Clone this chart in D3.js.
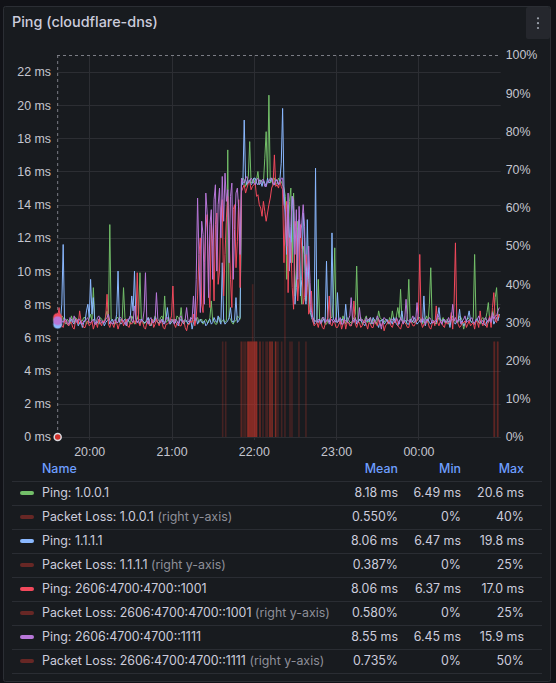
<!DOCTYPE html>
<html>
<head>
<meta charset="utf-8">
<title>Ping (cloudflare-dns)</title>
<script src="https://cdn.jsdelivr.net/npm/d3@7/dist/d3.min.js"></script>
<style>
  html, body { margin: 0; padding: 0; background: #111217; }
  svg { display: block; font-family: Inter, "Noto Sans", sans-serif; }
  .axis text { fill: #c5c6cf; font-size: 12.4px; }
  .axis path { display: none; }
</style>
</head>
<body>
<svg id="chart" width="556" height="683"></svg>

<script type="text/javascript">
    /// ping samples, one every minute from 19:37
    const pingStart = "19:37:00";
    const pingStepMin = 1;

    const ping1001 = [ // 1.0.0.1
        7.1,7.0, 6.9,7.3, 7.2,6.9, 6.8,7.1, 7.0,6.8, 7.3,7.0, 6.9,7.2, 7.1,6.9, 6.8,7.0, 7.0,7.2,
        7.2,6.8, 6.9,7.1, 7.4,7.0, 9.0,7.1, 7.0,6.9, 6.8,7.2, 7.1,7.0, 6.9,7.3, 7.6,7.0, 12.8,7.1,
        7.0,6.9, 6.8,7.2, 7.2,6.9, 7.1,7.0, 9.0,7.2, 6.9,7.0, 7.0,6.8, 7.3,7.1, 6.8,7.0, 7.1,7.4,
        9.9,7.1, 7.0,6.8, 6.9,7.1, 7.2,6.9, 6.7,7.0, 7.0,7.3, 7.1,6.9, 6.9,7.2, 7.3,7.0, 8.5,6.9,
        7.0,7.2, 6.8,7.0, 7.1,6.9, 6.9,7.3, 7.2,7.0, 7.8,6.9, 6.9,7.1, 7.0,6.8, 6.8,7.2, 7.1,7.0,
        6.9,7.1, 7.2,6.9, 7.0,7.1, 6.8,7.0, 7.1,6.9, 6.9,7.2, 8.2,7.0, 7.0,6.8, 6.8,7.1, 7.2,6.9,
        7.0,7.1, 6.9,7.0, 17.3,7.2, 7.1,6.9, 6.8,7.0, 7.0,7.3, 7.2,7.1, 15.2,15.6, 15.5,15.1, 15.3,15.7,
        17.8,15.3, 15.4,15.6, 15.2,15.5, 16.0,15.2, 15.5,15.4, 15.3,16.8, 18.4,15.5, 20.6,15.3, 15.4,15.6, 15.6,15.2,
        15.3,15.6, 15.5,15.4, 15.2,15.0, 14.5,9.5, 12.0,14.2, 15.0,10.5, 14.7,8.5, 10.0,13.0, 12.5,9.0, 8.0,11.5,
        11.0,8.2, 9.0,10.0, 7.5,7.3, 7.2,7.0, 7.0,6.9, 9.5,7.1, 6.9,7.2, 7.1,6.8, 6.8,7.0, 7.0,7.2,
        7.2,8.3, 11.4,7.0, 6.9,7.1, 7.0,6.8, 7.3,7.0, 6.8,7.2, 7.1,6.9, 6.9,7.0, 7.2,7.4, 10.3,7.0,
        7.0,7.2, 6.8,6.9, 7.1,7.3, 6.9,7.0, 7.2,6.8, 7.0,7.1, 6.8,7.0, 7.6,7.2, 7.1,6.9, 6.9,7.1,
        7.0,6.8, 7.2,7.0, 7.6,7.1, 6.9,7.3, 7.8,7.2, 8.9,7.0, 7.0,6.9, 6.8,7.4, 9.5,7.0, 7.1,6.9,
        6.9,7.1, 7.0,7.2, 7.2,6.9, 6.8,7.0, 7.1,7.3, 6.9,8.0, 10.2,7.1, 7.0,6.9, 6.8,7.0, 7.2,7.1,
        7.0,7.2, 6.9,7.0, 7.1,6.8, 6.8,7.1, 7.3,7.0, 7.0,6.9, 6.9,7.3, 7.2,7.0, 6.5,6.9, 7.0,7.2,
        7.1,7.0, 6.9,7.2, 11.0,7.1, 7.0,6.9, 6.8,7.1, 7.2,7.0, 7.1,7.5, 8.1,7.0, 6.9,7.6, 7.3,8.4,
        9.0,7.2, 7.4
    ];
    const ping1111 = [ // 1.1.1.1
        6.8,6.9, 7.0,8.0, 11.6,7.0, 6.9,6.8, 6.7,7.0, 7.1,6.9, 6.8,7.1, 7.0,6.7, 6.9,7.0, 6.6,6.9,
        7.0,7.6, 8.0,7.2, 9.5,7.4, 8.4,7.0, 6.8,6.9, 7.1,6.8, 6.9,7.0, 6.7,6.9, 7.0,7.1, 6.8,7.0,
        7.1,6.8, 6.9,7.4, 10.0,7.0, 6.8,6.9, 7.0,7.1, 6.7,6.9, 7.1,7.3, 8.5,7.6, 10.0,7.2, 6.9,7.0,
        6.8,7.1, 7.0,6.9, 6.9,7.0, 7.2,6.8, 6.7,7.0, 6.9,7.2, 7.0,6.9, 6.8,7.0, 7.1,6.8, 6.9,7.1,
        7.8,7.0, 6.8,6.9, 7.0,7.1, 6.9,6.8, 6.7,7.0, 7.1,6.9, 6.8,7.0, 7.0,6.8, 6.9,7.1, 6.5,6.9,
        7.0,7.2, 6.8,7.0, 7.1,6.9, 6.9,7.0, 6.7,6.8, 7.0,7.1, 6.8,6.9, 7.2,7.0, 6.9,7.3, 7.0,6.8,
        10.5,7.0, 6.8,6.9, 7.0,7.2, 7.8,7.0, 6.9,7.1, 8.4,6.9, 7.0,7.2, 15.4,15.2, 19.1,15.5, 15.2,15.4,
        15.5,15.2, 15.3,15.6, 15.6,15.3, 15.2,15.5, 15.4,15.1, 15.5,15.3, 15.1,15.6, 15.3,15.4, 15.6,15.2, 15.2,15.5,
        15.4,15.2, 15.5,16.5, 19.8,15.0, 13.0,11.0, 14.0,12.0, 10.5,14.5, 13.5,8.0, 9.0,12.0, 13.1,8.5, 9.5,13.5,
        12.0,8.0, 13.1,9.5, 8.0,7.2, 7.0,6.8, 16.2,7.0, 6.9,7.1, 6.8,7.0, 7.1,6.9, 10.6,7.0, 6.9,7.2,
        12.3,7.1, 7.0,6.9, 8.7,7.0, 6.8,7.1, 7.1,6.9, 8.0,7.0, 6.9,6.8, 6.7,7.0, 7.0,7.2, 6.8,6.9,
        7.1,7.0, 6.9,6.8, 6.7,7.0, 7.0,7.1, 6.8,6.9, 7.2,7.0, 6.9,6.8, 6.6,7.0, 7.0,7.1, 6.8,6.9,
        7.1,6.9, 6.9,7.0, 6.8,7.2, 7.0,6.8, 6.7,7.0, 7.1,7.6, 6.9,7.0, 7.0,6.8, 6.8,7.1, 6.9,7.0,
        7.2,7.0, 6.8,6.9, 7.0,7.1, 6.9,8.5, 6.7,7.0, 7.1,6.9, 6.8,7.0, 7.0,6.8, 6.9,7.2, 7.8,7.0,
        6.8,7.1, 7.0,6.9, 6.9,7.0, 6.6,7.1, 7.1,6.9, 6.8,7.0, 7.0,7.7, 6.9,7.0, 6.7,6.8, 7.0,7.2,
        7.6,7.0, 6.9,6.8, 6.8,7.1, 7.1,6.9, 6.9,7.0, 7.0,6.8, 6.7,7.0, 6.9,7.1, 7.1,7.3, 6.8,7.0,
        7.2,7.0, 7.4
    ];
    const pingV6_1001 = [ // 2606:4700:4700::1001
        7.2,7.8, 6.9,6.7, 6.6,7.0, 7.0,6.8, 6.7,6.9, 6.9,6.6, 6.5,7.0, 7.1,6.8, 7.6,7.0, 6.8,6.6,
        6.6,6.9, 7.0,6.7, 6.8,7.0, 6.5,6.8, 6.9,6.6, 7.1,6.9, 6.7,7.0, 6.9,7.2, 8.6,6.8, 6.6,6.9,
        6.8,6.6, 7.0,6.9, 6.5,6.8, 6.9,7.1, 6.7,6.9, 7.1,6.7, 6.6,6.9, 6.8,7.0, 7.0,6.8, 9.9,6.9,
        6.7,7.0, 6.9,6.6, 6.5,6.9, 7.0,6.7, 6.8,7.1, 6.6,6.8, 7.1,6.9, 6.7,7.0, 6.9,6.6, 6.5,6.8,
        6.8,6.9, 7.0,7.3, 9.1,6.8, 6.6,6.9, 6.9,6.7, 6.7,7.0, 7.0,6.6, 6.4,6.8, 6.8,7.0, 6.9,7.4,
        6.7,7.2, 8.5,11.0, 12.0,8.0, 7.5,10.5, 12.6,13.4, 9.0,7.8, 13.1,11.5, 8.2,12.8, 13.5,9.2, 10.0,13.8,
        14.3,8.5, 11.0,13.2, 14.5,12.0, 9.5,7.8, 13.7,14.0, 10.2,11.8, 14.3,9.0, 14.8,15.0, 15.2,14.7, 15.0,15.3,
        15.4,14.9, 15.1,15.2, 15.3,14.5, 14.6,14.0, 13.8,13.3, 14.2,13.6, 13.0,13.5, 14.0,14.4, 15.0,15.2, 17.0,15.1,
        15.2,15.0, 15.4,15.1, 14.9,10.5, 13.5,14.2, 8.7,12.0, 11.7,9.0, 7.7,13.0, 12.5,8.2, 9.6,12.8, 11.3,8.0,
        8.4,11.0, 10.2,7.4, 7.7,8.8, 7.0,6.7, 6.8,6.9, 6.6,7.0, 6.9,6.6, 6.5,6.8, 7.0,7.2, 8.5,6.8,
        6.7,7.0, 6.9,6.6, 6.6,6.8, 7.0,6.5, 6.8,7.1, 6.5,6.9, 6.9,6.7, 6.7,7.0, 8.2,6.8, 6.6,6.9,
        6.9,6.6, 6.7,7.0, 7.0,6.8, 6.5,6.9, 6.8,6.6, 6.6,7.0, 6.9,6.7, 7.1,6.8, 6.7,6.9, 6.4,6.7,
        6.8,7.0, 7.0,6.7, 6.6,6.9, 6.9,7.1, 6.7,6.6, 6.5,6.8, 7.0,6.9, 6.8,6.6, 6.6,7.0, 6.9,6.7,
        6.7,6.9, 7.0,7.4, 11.0,6.9, 6.6,6.8, 6.8,7.0, 6.9,6.6, 6.5,6.8, 7.0,6.7, 7.9,6.9, 6.7,7.0,
        6.9,6.7, 6.6,7.0, 6.8,6.9, 7.0,7.5, 6.5,8.0, 11.7,7.0, 6.8,6.6, 6.7,6.9, 6.9,7.0, 6.6,6.8,
        7.0,6.7, 6.8,6.9, 6.5,7.0, 6.9,6.6, 7.6,6.9, 6.7,7.0, 6.8,6.6, 7.0,7.3, 6.6,7.8, 8.7,7.0,
        6.9,7.4, 7.2
    ];
    const pingV6_1111 = [ // 2606:4700:4700::1111
        7.0,6.9, 7.2,7.0, 6.9,7.1, 7.1,6.9, 6.8,7.2, 7.0,6.9, 7.3,7.0, 6.9,7.1, 7.1,6.8, 6.8,7.0,
        7.0,7.1, 7.2,6.9, 6.9,7.0, 7.1,6.8, 6.8,7.2, 7.3,7.0, 7.0,6.9, 6.9,7.1, 7.2,7.4, 7.0,6.9,
        6.8,7.0, 7.1,6.9, 6.9,7.2, 7.2,7.0, 7.0,6.8, 6.8,7.1, 7.1,7.3, 7.0,6.9, 7.9,7.1, 6.9,7.0,
        7.1,7.0, 7.0,7.6, 9.9,7.0, 6.8,7.1, 7.2,6.9, 6.9,7.0, 8.7,7.1, 7.0,6.9, 7.1,7.0, 6.8,7.2,
        7.2,7.0, 6.9,7.1, 7.0,6.8, 7.1,7.0, 6.8,7.2, 7.3,6.9, 7.0,7.1, 7.8,7.0, 6.9,7.2, 7.1,8.5,
        7.0,9.5, 14.4,11.0, 7.5,13.0, 12.2,8.0, 14.7,13.5, 8.4,12.8, 13.7,9.5, 14.3,15.2, 10.0,14.0, 15.0,12.0,
        15.7,13.0, 15.9,14.2, 14.9,10.5, 14.5,15.3, 9.5,12.5, 14.7,15.0, 13.7,11.0, 15.6,15.4, 15.3,15.6, 15.7,15.3,
        15.4,15.6, 15.5,15.3, 15.2,15.5, 15.6,15.2, 15.3,15.5, 15.5,15.1, 15.1,15.4, 15.4,15.6, 15.6,15.3, 15.2,15.5,
        15.5,15.2, 15.3,15.6, 15.6,14.0, 13.7,11.5, 14.7,10.0, 12.7,14.5, 14.3,11.0, 13.7,9.5, 13.9,12.0, 12.9,14.0,
        12.7,8.5, 9.6,11.5, 9.3,7.6, 7.2,7.0, 7.0,6.9, 7.1,7.0, 6.9,7.2, 7.2,6.9, 7.0,7.1, 6.8,7.0,
        7.1,6.9, 7.0,7.2, 6.9,7.0, 7.2,6.8, 6.8,7.1, 7.0,6.9, 7.1,7.3, 8.4,7.0, 6.9,7.1, 7.0,6.9,
        7.8,7.0, 7.1,6.9, 6.9,7.2, 7.0,7.1, 7.2,6.9, 6.8,7.0, 7.0,7.3, 7.1,6.9, 6.5,7.0, 7.2,7.1,
        7.0,6.9, 6.8,7.1, 7.1,7.0, 6.9,7.2, 7.0,6.8, 7.2,7.0, 6.8,7.1, 8.3,7.0, 7.0,6.9, 7.1,7.3,
        6.9,7.0, 8.1,7.1, 7.0,6.9, 7.2,7.0, 6.8,7.1, 7.0,7.2, 7.1,6.9, 6.9,7.0, 7.0,7.4, 7.2,7.0,
        6.8,7.0, 7.1,6.9, 7.0,7.2, 6.9,7.1, 8.0,7.0, 7.2,6.9, 7.0,7.1, 6.8,7.0, 7.1,7.3, 6.9,7.0,
        7.0,7.1, 7.2,6.9, 6.9,7.0, 7.1,7.3, 7.0,6.9, 6.8,7.1, 7.2,7.0, 7.0,7.2, 6.9,7.5, 7.1,7.3,
        7.3,7.6, 7.8
    ];

    /// packet loss events (time, percent), everything else is 0%
    const lossTimes1001 = ["21:37:18", "21:50:40", "21:55:30", "21:56:50", "21:58:10", "21:59:10", "22:00:30",
        "22:01:50", "22:04:30", "22:11:48", "22:13:18", "22:15:54", "22:20:18", "00:55:06"];
    const lossVals1001 = [25, 25, 25, 25, 25, 40, 25, 25, 25, 25, 25, 25, 25, 25];
    const lossTimes1111 = ["21:39:30", "21:52:50", "21:55:50", "21:57:10", "21:58:30", "21:59:50", "22:01:10",
        "22:06:40", "22:11:48", "22:17:36", "22:27:48", "00:58:00"];
    const lossVals1111 = [25, 25, 25, 25, 25, 25, 25, 25, 25, 25, 25, 25];
    const lossTimesV6_1001 = ["21:51:20", "21:56:10", "21:57:30", "21:58:50", "22:00:10", "22:01:30", "22:02:10",
        "22:08:54", "22:11:48", "22:13:18", "22:15:54", "22:26:24", "22:32:54", "00:55:30"];
    const lossValsV6_1001 = [25, 25, 25, 25, 25, 25, 25, 25, 25, 25, 25, 25, 25, 25];
    const lossTimesV6_1111 = ["21:54:00", "21:55:40", "21:56:30", "21:57:50", "21:59:30", "22:00:50", "22:02:00",
        "22:04:30", "22:10:00", "22:13:18", "22:15:54", "22:22:42", "22:38:00", "00:57:40"];
    const lossValsV6_1111 = [25, 25, 25, 25, 25, 25, 25, 25, 25, 25, 25, 50, 25, 25];

    /// legend table
    const seriesNames = ["Ping: 1.0.0.1", "Packet Loss: 1.0.0.1", "Ping: 1.1.1.1", "Packet Loss: 1.1.1.1",
        "Ping: 2606:4700:4700::1001", "Packet Loss: 2606:4700:4700::1001",
        "Ping: 2606:4700:4700::1111", "Packet Loss: 2606:4700:4700::1111"];
    const seriesMeans = ["8.18 ms", "0.550%", "8.06 ms", "0.387%", "8.06 ms", "0.580%", "8.55 ms", "0.735%"];
    const seriesMins = ["6.49 ms", "0%", "6.47 ms", "0%", "6.37 ms", "0%", "6.45 ms", "0%"];
    const seriesMaxs = ["20.6 ms", "40%", "19.8 ms", "25%", "17.0 ms", "25%", "15.9 ms", "50%"];

    const msTicks = [0, 2, 4, 6, 8, 10, 12, 14, 16, 18, 20, 22];
    const pctTicks = [0, 10, 20, 30, 40, 50, 60, 70, 80, 90, 100];

    const pingColors = ["#73bf69", "#8ab8ff", "#f2495c", "#b877d9"];
    const lossColor = "#c8372d";

    /// time helpers, evening of day 1, after midnight is day 2
    function parseClock(str) {
        const [h, m, s] = str.split(":").map(Number);
        const day = h < 12 ? 2 : 1;
        return new Date(2024, 0, day, h, m, s);
    }

    const pingSeries = [ping1001, ping1111, pingV6_1001, pingV6_1111].map(vals => {
        const t0 = parseClock(pingStart);
        return vals.map((v, i) => ({t: new Date(t0.getTime() + i * pingStepMin * 60000), v: v}));
    });
    const lossSeries = [
        [lossTimes1001, lossVals1001], [lossTimes1111, lossVals1111],
        [lossTimesV6_1001, lossValsV6_1001], [lossTimesV6_1111, lossValsV6_1111]
    ].map(([ts, vs]) => ts.map((t, i) => ({t: parseClock(t), v: vs[i]})));

    const svg = d3.select("#chart");

    /// panel
    svg.append("rect").attr("x", 3.5).attr("y", 6.5).attr("width", 547).attr("height", 675)
        .attr("rx", 2).attr("fill", "#181b1f").attr("stroke", "#2b2e34");
    svg.append("text").attr("x", 12).attr("y", 27).attr("fill", "#ccccdc")
        .style("font-size", "14.4px").style("font-weight", 500).text("Ping (cloudflare-dns)");
    svg.append("rect").attr("x", 526).attr("y", 7).attr("width", 24).attr("height", 32)
        .attr("rx", 2).attr("fill", "#25272d");
    svg.append("g").selectAll("circle").data([18.3, 23.2, 28]).join("circle")
        .attr("cx", 538).attr("cy", d => d).attr("r", 1.1).attr("fill", "#9da3ad");

    /// plot area
    const plotL = 57, plotR = 500.7, plotT = 55, plotB = 437;
    const x = d3.scaleTime()
        .domain([parseClock("19:36:30"), parseClock("01:00:00")])
        .range([plotL, plotR]);
    const y = d3.scaleLinear().domain([0, 23.02]).range([plotB, plotT]);
    const yR = d3.scaleLinear().domain([0, 100]).range([plotB, plotT]);
    const hourTicks = x.ticks(d3.timeHour.every(1)).filter(d => x(d) < plotR - 20);

    const grid = svg.append("g").attr("stroke", "#2c2e33").attr("stroke-width", 1);
    grid.selectAll(".h").data(msTicks).join("line")
        .attr("x1", plotL).attr("x2", plotR)
        .attr("y1", d => Math.round(y(d)) + 0.5).attr("y2", d => Math.round(y(d)) + 0.5);
    grid.selectAll(".v").data(hourTicks).join("line")
        .attr("y1", plotT).attr("y2", plotB + 3)
        .attr("x1", d => Math.round(x(d)) + 0.5).attr("x2", d => Math.round(x(d)) + 0.5);

    svg.append("g").attr("class", "axis").attr("transform", `translate(${plotL - 1}, 0)`)
        .call(d3.axisLeft(y).tickValues(msTicks).tickFormat(d => d + " ms").tickSize(0).tickPadding(5));
    svg.append("g").attr("class", "axis").attr("transform", `translate(${plotR}, 0)`)
        .call(d3.axisRight(yR).tickValues(pctTicks).tickFormat(d => d + "%").tickSize(0).tickPadding(5));
    svg.append("g").attr("class", "axis").attr("transform", `translate(0, ${plotB})`)
        .call(d3.axisBottom(x).tickValues(hourTicks).tickFormat(d3.timeFormat("%H:%M")).tickSize(0).tickPadding(10));

    svg.append("clipPath").attr("id", "plot-clip").append("rect")
        .attr("x", plotL).attr("y", plotT).attr("width", plotR - plotL).attr("height", plotB - plotT);
    const plot = svg.append("g").attr("clip-path", "url(#plot-clip)");

    const line = d3.line().x(d => x(d.t)).y(d => y(d.v));

    /// legend order: ping then its loss
    for (let k = 0; k < 4; k++) {
        plot.append("path")
            .datum(pingSeries[k])
            .attr("fill", "none")
            .attr("stroke", pingColors[k])
            .attr("stroke-width", 1)
            .attr("stroke-linejoin", "round")
            .attr("d", line);

        plot.append("g").selectAll("rect").data(lossSeries[k]).join("rect")
            .attr("x", d => x(d.t) - 0.8)
            .attr("width", 1.6)
            .attr("y", d => yR(d.v))
            .attr("height", d => plotB - yR(d.v))
            .attr("fill", lossColor)
            .attr("fill-opacity", 0.25);
    }

    /// hover crosshair at the first sample
    const hoverX = x(pingSeries[0][0].t);
    svg.append("line").attr("x1", hoverX).attr("x2", hoverX).attr("y1", plotT).attr("y2", plotB)
        .attr("stroke", "#7b7d85").attr("stroke-dasharray", "3,3");
    svg.append("line").attr("x1", plotL).attr("x2", plotR).attr("y1", plotT + 0.5).attr("y2", plotT + 0.5)
        .attr("stroke", "#7b7d85").attr("stroke-dasharray", "3,3");
    pingSeries.forEach((s, k) => {
        svg.append("circle").attr("cx", hoverX).attr("cy", y(s[0].v)).attr("r", 4)
            .attr("fill", pingColors[k]).attr("stroke", pingColors[k]).attr("stroke-opacity", 0.4)
            .attr("stroke-width", 2);
    });
    svg.append("circle").attr("cx", hoverX).attr("cy", yR(0)).attr("r", 3.5)
        .attr("fill", "#d0302a").attr("stroke", "#d8d9de").attr("stroke-width", 1.5);

    /// legend table
    const rowH = 24, headY = 469, firstRowY = 493;
    const colRight = [398, 461, 524];
    const legend = svg.append("g").style("font-size", "12.4px");
    ["Mean", "Min", "Max"].forEach((h, i) => {
        legend.append("text").attr("x", colRight[i]).attr("y", headY).attr("dy", "0.35em")
            .attr("text-anchor", "end").attr("fill", "#6e9fff").style("font-weight", 500).text(h);
    });
    legend.append("text").attr("x", 42).attr("y", headY).attr("dy", "0.35em")
        .attr("fill", "#6e9fff").style("font-weight", 500).text("Name");

    const rows = seriesNames.map((n, i) => ({
        name: n, mean: seriesMeans[i], min: seriesMins[i], max: seriesMaxs[i],
        loss: i % 2 === 1, color: i % 2 === 1 ? lossColor : pingColors[i / 2]
    }));

    legend.selectAll(".sep").data(d3.range(rows.length + 1)).join("line")
        .attr("x1", 12).attr("x2", 542)
        .attr("y1", i => headY + 12.5 + i * rowH).attr("y2", i => headY + 12.5 + i * rowH)
        .attr("stroke", "#2a2d33");

    const row = legend.selectAll(".row").data(rows).join("g")
        .attr("transform", (d, i) => `translate(0, ${firstRowY + i * rowH})`);
    row.append("rect").attr("x", 20).attr("y", -2).attr("width", 14).attr("height", 4).attr("rx", 2)
        .attr("fill", d => d.color).attr("fill-opacity", d => d.loss ? 0.45 : 1);
    const label = row.append("text").attr("x", 42).attr("dy", "0.35em").attr("fill", "#ccccdc");
    label.append("tspan").text(d => d.name);
    label.filter(d => d.loss).append("tspan").attr("fill", "#8e8f99").text(" (right y-axis)");
    ["mean", "min", "max"].forEach((key, i) => {
        row.append("text").attr("x", colRight[i]).attr("dy", "0.35em").attr("text-anchor", "end")
            .attr("fill", "#ccccdc").text(d => d[key]);
    });
</script>
</body>
</html>
